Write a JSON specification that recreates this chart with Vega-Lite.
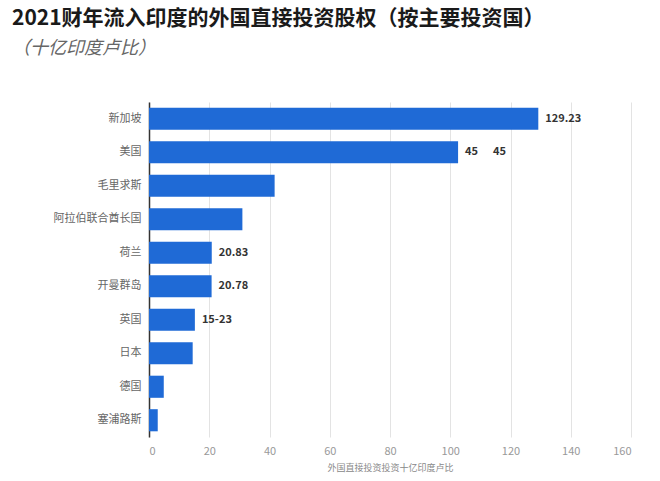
{
  "$schema": "https://vega.github.io/schema/vega-lite/v6.json",
  "width": 482,
  "height": 335,
  "autosize": {"type": "none"},
  "padding": {"left": 149, "top": 102, "right": 29, "bottom": 44},
  "background": "white",
  "title": {
    "text": "2021财年流入印度的外国直接投资股权（按主要投资国）",
    "subtitle": "（十亿印度卢比）",
    "anchor": "start",
    "frame": "group",
    "dx": -137,
    "offset": 44,
    "font": "Noto Sans CJK SC",
    "fontSize": 21,
    "fontWeight": "bold",
    "color": "#1a1a1a",
    "subtitleFont": "Noto Sans CJK SC",
    "subtitleFontSize": 18,
    "subtitleFontStyle": "italic",
    "subtitleColor": "#666666",
    "subtitlePadding": 11
  },
  "data": {
    "values": [
      {"country": "新加坡", "value": 129.23, "label": "129.23"},
      {"country": "美国", "value": 102.6, "label": "45\u00a0\u00a0\u00a0\u00a0\u00a0\u00a045"},
      {"country": "毛里求斯", "value": 41.7, "label": ""},
      {"country": "阿拉伯联合酋长国", "value": 31.0, "label": ""},
      {"country": "荷兰", "value": 20.83, "label": "20.83"},
      {"country": "开曼群岛", "value": 20.78, "label": "20.78"},
      {"country": "英国", "value": 15.23, "label": "15-23"},
      {"country": "日本", "value": 14.5, "label": ""},
      {"country": "德国", "value": 4.9, "label": ""},
      {"country": "塞浦路斯", "value": 2.9, "label": ""}
    ]
  },
  "encoding": {
    "y": {
      "field": "country",
      "type": "nominal",
      "sort": null,
      "scale": {"paddingInner": 0.34, "paddingOuter": 0.17},
      "axis": {
        "title": null,
        "ticks": false,
        "labelPadding": 8,
        "labelFont": "Noto Sans CJK SC",
        "labelFontSize": 11,
        "labelColor": "#666666",
        "domainColor": "#333333",
        "domainWidth": 1.5,
        "grid": false
      }
    },
    "x": {
      "field": "value",
      "type": "quantitative",
      "scale": {"domain": [0, 160], "nice": false},
      "axis": {
        "title": "外国直接投资投资十亿印度卢比",
        "titleFont": "Noto Sans CJK SC",
        "titleFontSize": 9,
        "titleFontWeight": "normal",
        "titleColor": "#888888",
        "titlePadding": 7,
        "values": [0, 20, 40, 60, 80, 100, 120, 140, 160],
        "labelFont": "Noto Sans CJK SC",
        "labelFontSize": 11,
        "labelColor": "#999999",
        "labelPadding": 8,
        "ticks": false,
        "domain": false,
        "grid": true,
        "gridColor": "#e3e3e3",
        "gridWidth": 1
      }
    }
  },
  "layer": [
    {"mark": {"type": "bar", "color": "#1f6ad6"}},
    {
      "mark": {"type": "text", "align": "left", "dx": 7, "font": "Noto Sans CJK SC", "fontSize": 11, "fontWeight": "bold", "color": "#333333"},
      "encoding": {"text": {"field": "label"}}
    }
  ],
  "config": {"view": {"stroke": null}}
}
